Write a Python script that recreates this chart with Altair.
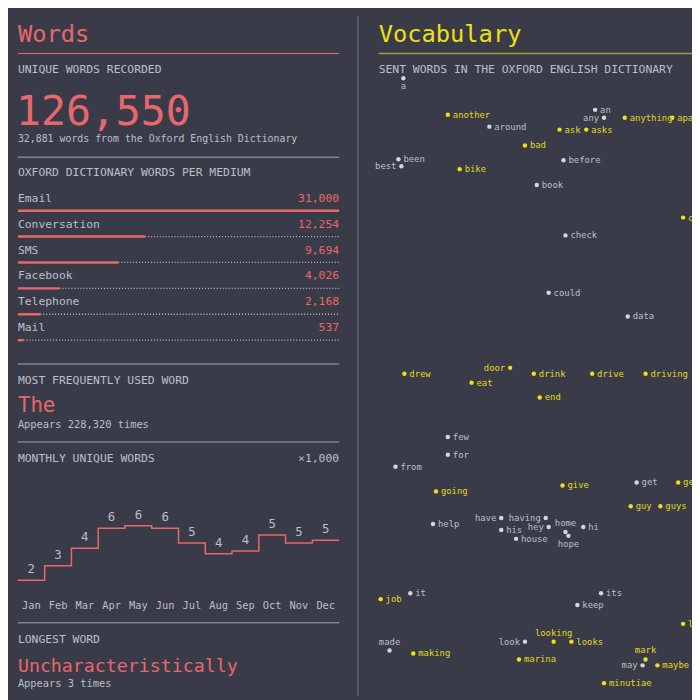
import altair as alt
import pandas as pd

BG = "#393c48"
SALMON = "#e8676b"
YELLOW = "#f0e010"
YELLOW_TXT = "#e4d61c"
GRAY = "#bcbec8"
GRAY_DOT = "#d4d6de"
RULE = "#80838e"
FONT = "DejaVu Sans Mono"

# ---------------- data ----------------
media = ["Email", "Conversation", "SMS", "Facebook", "Telephone", "Mail"]
media_words = [31000, 12254, 9694, 4026, 2168, 537]

months = ["Jan", "Feb", "Mar", "Apr", "May", "Jun", "Jul", "Aug", "Sep", "Oct", "Nov", "Dec"]
monthly_unique = [2.0, 3.1, 4.4, 5.9, 6.1, 5.9, 4.8, 4.0, 4.2, 5.4, 4.8, 5.0]
monthly_labels = ["2", "3", "4", "6", "6", "6", "5", "4", "4", "5", "5", "5"]

words = ["a", "another", "around", "an", "any", "anything", "apart", "ask", "asks", "bad",
         "been", "best", "bike", "before", "book", "check", "could", "data", "call",
         "drew", "door", "eat", "drink", "drive", "driving", "end", "few", "for", "from",
         "going", "give", "get", "gets", "guy", "guys", "have", "having", "help", "his",
         "hey", "home", "hope", "hi", "house", "job", "it", "its", "keep", "like", "made",
         "making", "look", "looking", "looks", "marina", "mark", "may", "maybe", "minutiae"]
word_x = [408, 453, 495, 602, 611, 632, 680, 566, 593, 531,
          403, 406, 465, 570, 543, 572, 555, 635, 691,
          409, 516, 477, 540, 599, 653, 546, 453, 453, 400,
          441, 569, 644, 686, 638, 668, 507, 552, 438, 507,
          555, 572, 575, 590, 522, 385, 415, 608, 584, 691, 394,
          418, 531, 560, 578, 525, 653, 650, 665, 611]
word_y = [75, 112, 124, 107, 115, 115, 115, 127, 127, 143,
          157, 164, 167, 158, 183, 234, 292, 316, 216,
          374, 368, 383, 374, 374, 374, 398, 438, 456, 468,
          493, 487, 484, 484, 508, 508, 520, 520, 526, 532,
          529, 534, 538, 529, 541, 602, 596, 596, 608, 627, 654,
          657, 645, 645, 645, 663, 663, 669, 669, 687]
in_oed = [False, True, False, False, False, True, True, True, True, True,
          False, False, True, False, False, False, False, False, True,
          True, True, True, True, True, True, True, False, False, False,
          True, True, False, True, True, True, False, False, False, False,
          False, False, False, False, False, True, False, False, False, True, False,
          True, False, True, True, True, True, False, True, True]

# label placement (layout, not data)
left_words = {"any", "best", "door", "have", "having", "hey", "look", "may"}
above_words = {"home", "made", "looking", "mark"}
below_words = {"a", "hope"}

dummy = pd.DataFrame({"d": [0]})


def txt(s, x, y, size, color, align="left", baseline="middle"):
    return alt.Chart(dummy).mark_text(
        text=s, fontSize=size, color=color, font=FONT, align=align, baseline=baseline
    ).encode(x=alt.value(x), y=alt.value(y))


def hrule(x1, x2, y, color, w=1.0):
    return alt.Chart(dummy).mark_rule(color=color, strokeWidth=w).encode(
        x=alt.value(x1), x2=alt.value(x2), y=alt.value(y))


layers = []

# ---------------- left column ----------------
layers += [
    txt("Words", 10, 30, 24, SALMON, baseline="alphabetic"),
    hrule(10, 335, 42, SALMON, 1),
    txt("UNIQUE WORDS RECORDED", 10, 59, 11.5, GRAY),
    txt("126,550", 8, 114, 42, SALMON, baseline="alphabetic"),
    txt("32,881 words from the Oxford English Dictionary", 10, 129, 10, GRAY),
    hrule(10, 335, 147, RULE, 1.5),
    txt("OXFORD DICTIONARY WORDS PER MEDIUM", 10, 163, 11.5, GRAY),
    hrule(10, 335, 356, RULE, 1.5),
    txt("MOST FREQUENTLY USED WORD", 10, 373, 11.5, GRAY),
    txt("The", 10, 405, 21, SALMON, baseline="alphabetic"),
    txt("Appears 228,320 times", 10, 418, 10.5, GRAY),
    hrule(10, 335, 435, RULE, 1.5),
    txt("MONTHLY UNIQUE WORDS", 10, 452, 11.5, GRAY),
    txt("×1,000", 335, 452, 11.5, GRAY, align="right"),
    hrule(10, 335, 618, RULE, 1.5),
    txt("LONGEST WORD", 10, 635, 11.5, GRAY),
    txt("Uncharacteristically", 10, 668, 18.5, SALMON, baseline="alphabetic"),
    txt("Appears 3 times", 10, 680, 10.5, GRAY),
]

# bars per medium
bars_df = pd.DataFrame({"medium": media, "words": media_words, "idx": list(range(len(media)))})
bx = alt.Scale(domain=[0, 31000], range=[10, 335], nice=False, zero=False)
by = alt.Scale(domain=[0, 5], range=[201, 332], nice=False, zero=False)
layers += [
    alt.Chart(bars_df).mark_rule(color=GRAY, strokeWidth=1.3, strokeDash=[1, 2]).encode(
        x=alt.X("words:Q", scale=bx, axis=None), x2=alt.datum(31000),
        y=alt.Y("idx:Q", scale=by, axis=None)),
    alt.Chart(bars_df).mark_rule(color=SALMON, strokeWidth=2.5).encode(
        x=alt.X("words:Q", scale=bx, axis=None), x2=alt.datum(0),
        y=alt.Y("idx:Q", scale=by, axis=None)),
    alt.Chart(bars_df).mark_text(align="left", baseline="middle", dy=-12, fontSize=11.5,
                                 font=FONT, color=GRAY).encode(
        x=alt.value(10), y=alt.Y("idx:Q", scale=by, axis=None), text="medium:N"),
    alt.Chart(bars_df).mark_text(align="right", baseline="middle", dy=-12, fontSize=11.5,
                                 font=FONT, color=SALMON).encode(
        x=alt.value(335), y=alt.Y("idx:Q", scale=by, axis=None),
        text=alt.Text("words:Q", format=",")),
]

# monthly step chart
step_df = pd.DataFrame({"i": list(range(13)), "v": monthly_unique + [monthly_unique[-1]]})
mon_df = pd.DataFrame({"c": [i + 0.5 for i in range(12)], "v": monthly_unique,
                       "lab": monthly_labels, "month": months})
sx = alt.Scale(domain=[0, 12], range=[10, 335], nice=False, zero=False)
sy = alt.Scale(domain=[0, 8], range=[602, 494], nice=False, zero=False)
layers += [
    alt.Chart(step_df).mark_line(interpolate="step-after", color=SALMON, strokeWidth=1.5).encode(
        x=alt.X("i:Q", scale=sx, axis=None), y=alt.Y("v:Q", scale=sy, axis=None)),
    alt.Chart(mon_df).mark_text(baseline="middle", dy=-11, fontSize=12.5, font=FONT,
                                color=GRAY).encode(
        x=alt.X("c:Q", scale=sx, axis=None), y=alt.Y("v:Q", scale=sy, axis=None), text="lab:N"),
    alt.Chart(mon_df).mark_text(baseline="middle", fontSize=10.5, font=FONT, color=GRAY).encode(
        x=alt.X("c:Q", scale=sx, axis=None), y=alt.value(601), text="month:N"),
]

# divider
layers.append(alt.Chart(dummy).mark_rule(color="#5f626e", strokeWidth=1.5).encode(
    x=alt.value(354), y=alt.value(4), y2=alt.value(692)))

# ---------------- right column ----------------
layers += [
    txt("Vocabulary", 375, 30, 24, YELLOW, baseline="alphabetic"),
    hrule(375, 692, 42, "#a59c2c", 1.5),
    txt("SENT WORDS IN THE OXFORD ENGLISH DICTIONARY", 375, 59, 11.5, GRAY),
]

def place(w):
    if w in left_words:
        return "left"
    if w in above_words:
        return "above"
    if w in below_words:
        return "below"
    return "right"

wdf = pd.DataFrame({"word": words, "x": word_x, "y": word_y, "oed": in_oed})
wdf["place"] = [place(w) for w in words]
wx = alt.Scale(domain=[8, 700], range=[0, 692], nice=False, zero=False)
wy = alt.Scale(domain=[8, 700], range=[0, 692], nice=False, zero=False)
dot_col = alt.condition("datum.oed", alt.value(YELLOW), alt.value(GRAY_DOT))
lab_col = alt.condition("datum.oed", alt.value(YELLOW_TXT), alt.value(GRAY))

layers.append(alt.Chart(wdf).mark_circle(size=20, opacity=1).encode(
    x=alt.X("x:Q", scale=wx, axis=None), y=alt.Y("y:Q", scale=wy, axis=None), color=dot_col))

offsets = {
    "right": dict(align="left", baseline="middle", dx=5, dy=0),
    "left": dict(align="right", baseline="middle", dx=-5, dy=0),
    "above": dict(align="center", baseline="middle", dx=0, dy=-9),
    "below": dict(align="center", baseline="middle", dx=0, dy=8),
}
for p, kw in offsets.items():
    layers.append(alt.Chart(wdf).transform_filter(f"datum.place == '{p}'").mark_text(
        fontSize=9, font=FONT, **kw).encode(
        x=alt.X("x:Q", scale=wx, axis=None), y=alt.Y("y:Q", scale=wy, axis=None),
        text="word:N", color=lab_col))

chart = alt.layer(*layers).resolve_scale(
    x="independent", y="independent"
).properties(
    width=692, height=692, autosize=alt.AutoSizeParams(type="none"), padding=0
).configure(background=BG).configure_view(stroke=None)

chart.save("out.html", embed_options={"renderer": "svg", "actions": False})
